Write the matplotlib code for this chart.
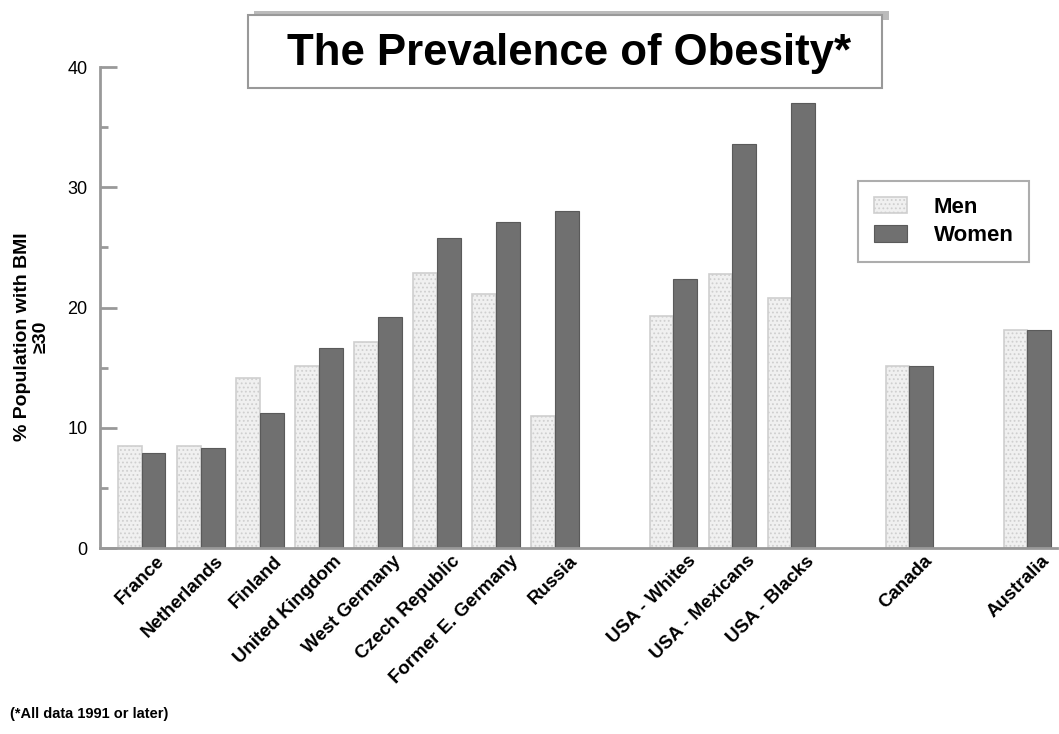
import numpy as np
import matplotlib.pyplot as plt
from matplotlib.patches import Rectangle
from matplotlib.ticker import MultipleLocator
import matplotlib.transforms as mtransforms

plt.rcParams['font.family'] = ['Liberation Sans', 'DejaVu Sans']

countries = ['France', 'Netherlands', 'Finland', 'United Kingdom', 'West Germany',
             'Czech Republic', 'Former E. Germany', 'Russia',
             'USA - Whites', 'USA - Mexicans', 'USA - Blacks', 'Canada', 'Australia']
slots = [0, 1, 2, 3, 4, 5, 6, 7, 9, 10, 11, 13, 15]
men = [8.5, 8.5, 14.1, 15.1, 17.1, 22.9, 21.1, 11.0, 19.3, 22.8, 20.8, 15.1, 18.1]
women = [7.9, 8.3, 11.2, 16.6, 19.2, 25.8, 27.1, 28.0, 22.4, 33.6, 37.0, 15.1, 18.1]

fig = plt.figure(figsize=(10.59, 7.34), dpi=100)
ax = fig.add_axes([0.0944, 0.2534, 0.9036, 0.6553])

x = np.array(slots, dtype=float)
width = 0.4

plt.rcParams['hatch.linewidth'] = 0.8
b1 = ax.bar(x - width / 2, men, width, color='#f0f0f0', edgecolor='#cfcfcf',
            hatch='....', linewidth=1.2, label='Men')
b2 = ax.bar(x + width / 2, women, width, color='#707070', edgecolor='#5a5a5a',
            linewidth=0.8, label='Women')

ax.set_xlim(-0.71, 15.5)
ax.set_ylim(0, 40)
ax.yaxis.set_major_locator(MultipleLocator(10))
ax.yaxis.set_minor_locator(MultipleLocator(5))

for s in ['top', 'right']:
    ax.spines[s].set_visible(False)
for s in ['left', 'bottom']:
    ax.spines[s].set_color('#999999')
    ax.spines[s].set_linewidth(2)

ax.tick_params(axis='y', direction='in', length=12, width=2, color='#999999',
               labelsize=13, pad=9)
ax.tick_params(axis='y', which='minor', direction='in', length=6, width=2,
               color='#999999')
ax.tick_params(axis='x', length=0, pad=4)

ax.set_xticks(x)
ax.set_xticklabels(countries, rotation=45, ha='right', va='center',
                   rotation_mode='anchor', fontsize=13.5, fontweight='bold')
offset = mtransforms.ScaledTranslation(0.2, -0.05, fig.dpi_scale_trans)
for lab in ax.get_xticklabels():
    lab.set_transform(lab.get_transform() + offset)

ax.set_ylabel('% Population with BMI\n\u226530', fontsize=14, fontweight='bold',
              linespacing=1.1, va='center', ha='center')
ax.yaxis.set_label_coords(-0.071, 0.44)

# title box with shadow
fig.patches.append(Rectangle((0.240, 0.973), 0.599, 0.012, transform=fig.transFigure,
                             facecolor='#bbbbbb', edgecolor='none'))
fig.patches.append(Rectangle((0.234, 0.880), 0.599, 0.099, transform=fig.transFigure,
                             facecolor='white', edgecolor='#999999', linewidth=1.5))
fig.text(0.537, 0.927, 'The Prevalence of Obesity*', ha='center', va='center',
         fontsize=31.5, fontweight='bold')

leg = fig.legend(handles=[b1, b2], loc='upper left',
                 bbox_to_anchor=(858 / 1059, 1 - 181 / 734),
                 prop={'weight': 'bold', 'size': 16}, frameon=True,
                 fancybox=False, edgecolor='#999999', handlelength=1.5,
                 handleheight=0.75, borderpad=0.7, labelspacing=0.35,
                 handletextpad=1.2, borderaxespad=0)
leg.get_frame().set_linewidth(1.5)

fig.text(0.009, 0.022, '(*All data 1991 or later)', fontsize=10.5, fontweight='bold')

fig.savefig('out.png', dpi=100)
